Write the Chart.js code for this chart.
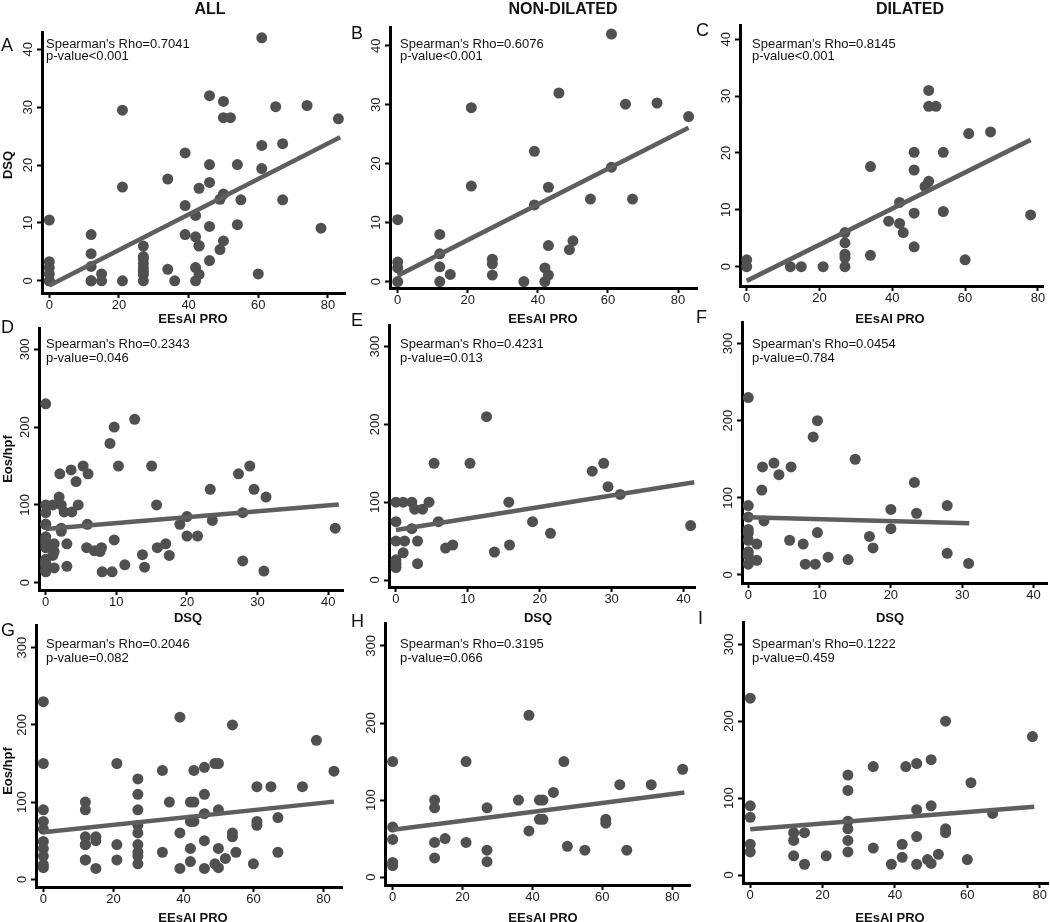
<!DOCTYPE html>
<html>
<head>
<meta charset="utf-8">
<script src="https://cdn.jsdelivr.net/npm/chart.js@4.4.1/dist/chart.umd.min.js"></script>
<style>
  html, body { margin: 0; padding: 0; background: #fff; overflow: hidden; }
  body { width: 1050px; height: 922px; position: relative; font-family: "Liberation Sans", Arial, sans-serif; color: #111; }
  canvas { position: absolute; }
  .txt { position: absolute; white-space: nowrap; line-height: 1; }
  .col { font-size: 16px; font-weight: bold; transform: translate(-50%, -50%); }
  .letter { font-size: 18px; transform: translateY(-50%); }
  .stat { font-size: 13px; transform: translateY(-50%); }
  .xt { font-size: 13px; font-weight: bold; transform: translate(-50%, -50%); }
  .yt { font-size: 13px; font-weight: bold; transform: translate(-50%, -50%) rotate(-90deg); }
</style>
</head>
<body>
<script>
// tick labels
const eesaiTicks = [0, 20, 40, 60, 80];
const dsqTicks = [0, 10, 20, 30, 40];
const eosTicks = [0, 100, 200, 300];

// non-dilated: EEsAI PRO vs DSQ (panel B)
const ndEesaiDsqX = [0,0,0,0,12,12,12,12,15,21,21,27,27,27,36,39,39,42,42,43,43,43,46,49,50,55,61,61,65,67,74,83];
const ndEesaiDsqY = [10.5,3.3,2.3,0,8,4.7,2.5,0,1.2,29.5,16.2,3.8,3,1.1,0,22.1,13,2.3,0,1.1,16,6.1,32,5.4,6.9,14,42,19.4,30.1,14,30.3,28];
// dilated: EEsAI PRO vs DSQ (panel C)
const dilEesaiDsqX = [0,0,12,15,21,27,27,27,27,27,34,34,39,42,42,43,46,46,46,46,49,50,50,50,52,54,54,60,61,67,78];
const dilEesaiDsqY = [1.2,0,0,0,0,6,4.2,2.2,1.6,0,17.6,2,8,11.3,7.6,6,20.1,17,9.4,3.5,14.1,15,31,28.2,28.2,20.1,9.7,1.2,23.4,23.7,9.1];

// non-dilated: DSQ vs Eos/hpf (panel E)
const ndDsqEosX = [0,0,0,0,0,0,1,1.2,1,2.2,2.2,2.6,3,3,3.7,4.6,5.3,5.9,6.9,7.9,10.3,12.6,13.7,15.7,15.8,19,21.5,27.3,28.9,29.5,31.2,41];
const ndDsqEosY = [100,75,50,26,21,16,100,50,35,100,66,91,50,21,91,100,150,75,41,45,150,210,36,100,45,75,60,140,150,120,110,70];
// dilated: DSQ vs Eos/hpf (panel F)
const dilDsqEosX = [0,0,0,0,0,0,0,0,0,1.2,1.2,1.9,2,2.2,3.6,4.3,6,5.8,7.7,8,9.1,9.7,9.7,9.4,11.2,14,15,17,17.5,20,20,23.3,23.6,27.9,27.9,30.9];
const dilDsqEosY = [230,90,75,59,54,45,30,25,14,40,19,110,140,70,145,130,140,45,40,14,179,200,55,14,23,20,150,50,35,85,60,120,80,90,28,15];

// non-dilated: EEsAI PRO vs Eos/hpf (panel H)
const ndEesaiEosX = [0,0,0,0,0,12,12,12,12,15,21,21,27,27,27,36,39,39,42,43,42,43,46,49,50,55,61,61,65,67,74,83];
const ndEesaiEosY = [150,65,49,19,15,100,90,45,25,50,150,45,90,35,20,100,210,60,100,100,75,75,110,150,40,35,75,70,120,35,120,140];
// dilated: EEsAI PRO vs Eos/hpf (panel I)
const dilEesaiEosX = [0,0,0,0,0,12,12,12,15,15,21,27,27,27,27,27,27,34,34,39,42,42,43,46,46,46,46,49,50,50,50,52,54,54,54,60,61,67,78];
const dilEesaiEosY = [230,90,75,40,30,55,45,25,55,14,25,130,110,70,60,45,30,141,35,14,40,23,141,145,85,50,14,20,15,150,90,27,200,60,55,20,120,80,180];

// fitted lines, [start, end] in data units
const fitA = [[0, -0.8], [83.5, 24.8]];
const fitB = [[0, 1.0], [83, 26.1]];
const fitC = [[0, -2.5], [78, 22.3]];
const fitD = [[0, 69], [41.5, 100.5]];
const fitE = [[0, 64.3], [41.5, 125.6]];
const fitF = [[0, 74.7], [31, 66.9]];
const fitG = [[0, 61], [83, 100.6]];
const fitH = [[0, 61.4], [83.5, 109.8]];
const fitI = [[0, 59.4], [78.5, 88.9]];

const rhoText = ["0.7041", "0.6076", "0.8145", "0.2343", "0.4231", "0.0454", "0.2046", "0.3195", "0.1222"];
const pText = ["p-value<0.001", "p-value<0.001", "p-value<0.001", "p-value=0.046", "p-value=0.013", "p-value=0.784", "p-value=0.082", "p-value=0.066", "p-value=0.459"];

const FONT = '"Liberation Sans", Arial, sans-serif';
Chart.defaults.font.family = FONT;

// layout of each panel: chart area [left, top, right, bottom], axis ranges, text spots
const panels = [
  { letter: 'A', xs: [...ndEesaiDsqX, ...dilEesaiDsqX], ys: [...ndEesaiDsqY, ...dilEesaiDsqY], fit: fitA,
    area: [42, 32, 345, 293], xr: [-2.1, 84.9], yr: [-2.1, 43.0], xt: eesaiTicks, yt: dsqTicks,
    lp: [1, 45], sp: [46, 42.5, 55], xTitle: ['EEsAI PRO', 193, 318] },
  { letter: 'B', xs: ndEesaiDsqX, ys: ndEesaiDsqY, fit: fitB,
    area: [390, 27, 697, 288], xr: [-2.2, 85.4], yr: [-1.1, 43.2], xt: eesaiTicks, yt: dsqTicks,
    lp: [351, 33], sp: [400, 42.5, 55], xTitle: ['EEsAI PRO', 543, 318] },
  { letter: 'C', xs: dilEesaiDsqX, ys: dilEesaiDsqY, fit: fitC,
    area: [740, 25, 1043, 286], xr: [-1.84, 81.4], yr: [-3.4, 42.5], xt: eesaiTicks, yt: dsqTicks,
    lp: [696, 30], sp: [752, 42.5, 55], xTitle: ['EEsAI PRO', 890, 318] },
  { letter: 'D', xs: [...ndDsqEosX, ...dilDsqEosX], ys: [...ndDsqEosY, ...dilDsqEosY], fit: fitD,
    area: [39, 328, 343, 590], xr: [-0.95, 42.1], yr: [-9.4, 327.4], xt: dsqTicks, yt: eosTicks,
    lp: [1, 327], sp: [46, 343, 356.5], xTitle: ['DSQ', 188, 617] },
  { letter: 'E', xs: ndDsqEosX, ys: ndDsqEosY, fit: fitE,
    area: [389, 325, 695, 587], xr: [-0.97, 41.6], yr: [-9, 327.9], xt: dsqTicks, yt: eosTicks,
    lp: [351, 320], sp: [400, 343, 356.5], xTitle: ['DSQ', 538, 617] },
  { letter: 'F', xs: dilDsqEosX, ys: dilDsqEosY, fit: fitF,
    area: [742, 322, 1047, 583], xr: [-0.88, 41.9], yr: [-10.4, 327.9], xt: dsqTicks, yt: eosTicks,
    lp: [696, 317], sp: [752, 343, 356.5], xTitle: ['DSQ', 890, 617] },
  { letter: 'G', xs: [...ndEesaiEosX, ...dilEesaiEosX], ys: [...ndEesaiEosY, ...dilEesaiEosY], fit: fitG,
    area: [36, 625, 342, 887], xr: [-2.1, 85.3], yr: [-10, 329.4], xt: eesaiTicks, yt: eosTicks,
    lp: [1, 630], sp: [46, 643, 656.5], xTitle: ['EEsAI PRO', 193, 917] },
  { letter: 'H', xs: ndEesaiEosX, ys: ndEesaiEosY, fit: fitH,
    area: [385, 623, 690, 885], xr: [-2.2, 85.1], yr: [-10.2, 329.8], xt: eesaiTicks, yt: eosTicks,
    lp: [351, 621], sp: [400, 643, 656.5], xTitle: ['EEsAI PRO', 543, 917] },
  { letter: 'I', xs: dilEesaiEosX, ys: dilEesaiEosY, fit: fitI,
    area: [743, 622, 1048, 883], xr: [-2.0, 82.3], yr: [-10.4, 329], xt: eesaiTicks, yt: eosTicks,
    lp: [698, 618], sp: [752, 643, 656.5], xTitle: ['EEsAI PRO', 890, 917] }
];

function addText(cls, text, x, y) {
  const d = document.createElement('div');
  d.className = 'txt ' + cls;
  d.textContent = text;
  d.style.left = x + 'px';
  d.style.top = y + 'px';
  document.body.appendChild(d);
}

// rotated y tick labels, placed from the y scale
const yLabels = {
  id: 'yLabels',
  afterDraw(chart) {
    const s = chart.scales.y, ctx = chart.ctx;
    ctx.save();
    ctx.fillStyle = '#1a1a1a';
    ctx.font = '13px ' + FONT;
    ctx.textAlign = 'center';
    ctx.textBaseline = 'alphabetic';
    s.ticks.forEach(t => {
      const py = s.getPixelForValue(t.value);
      ctx.save();
      ctx.translate(s.right - 15 + 4.6, py);
      ctx.rotate(-Math.PI / 2);
      ctx.fillText(String(t.value), 0, 0);
      ctx.restore();
    });
    ctx.restore();
  }
};

const YW = 40, XH = 40, PT = 6, PR = 6;

panels.forEach((p, i) => {
  const [L, T, R, B] = p.area;
  const c = document.createElement('canvas');
  c.width = R - L + YW + PR;
  c.height = B - T + PT + XH;
  c.style.left = (L - YW) + 'px';
  c.style.top = (T - PT) + 'px';
  document.body.appendChild(c);

  const axisCommon = {
    type: 'linear',
    border: { display: true, color: '#000', width: 3 },
    grid: { drawOnChartArea: false, drawTicks: true, tickLength: 5, tickWidth: 2, tickColor: '#000' }
  };

  new Chart(c, {
    type: 'scatter',
    data: {
      datasets: [{
        type: 'line',
        data: p.fit.map(([x, y]) => ({ x, y })),
        borderColor: '#5e5e5e',
        borderWidth: 4.5,
        pointRadius: 0,
        fill: false,
        order: 0
      }, {
        type: 'scatter',
        data: p.xs.map((x, k) => ({ x, y: p.ys[k] })),
        backgroundColor: '#505050',
        borderWidth: 0,
        pointRadius: 5.5,
        clip: false,
        order: 1
      }]
    },
    options: {
      responsive: false,
      animation: false,
      layout: { padding: { top: PT, right: PR, left: 0, bottom: 0 } },
      plugins: { legend: { display: false }, tooltip: { enabled: false } },
      scales: {
        x: {
          ...axisCommon,
          min: p.xr[0], max: p.xr[1],
          afterBuildTicks: s => { s.ticks = p.xt.map(v => ({ value: v })); },
          afterFit: s => { s.height = XH; },
          ticks: { color: '#1a1a1a', font: { size: 13 }, padding: 0, autoSkip: false, maxRotation: 0 }
        },
        y: {
          ...axisCommon,
          min: p.yr[0], max: p.yr[1],
          afterBuildTicks: s => { s.ticks = p.yt.map(v => ({ value: v })); },
          afterFit: s => { s.width = YW; },
          ticks: { display: false }
        }
      }
    },
    plugins: [yLabels]
  });

  addText('letter', p.letter, p.lp[0], p.lp[1]);
  addText('stat', "Spearman's Rho=" + rhoText[i], p.sp[0], p.sp[1]);
  addText('stat', pText[i], p.sp[0], p.sp[2]);
  addText('xt', p.xTitle[0], p.xTitle[1], p.xTitle[2]);
});

addText('col', 'ALL', 210, 9);
addText('col', 'NON-DILATED', 563, 9);
addText('col', 'DILATED', 910, 9);
addText('yt', 'DSQ', 7, 165);
addText('yt', 'Eos/hpf', 7, 459);
addText('yt', 'Eos/hpf', 7, 771);
</script>
</body>
</html>
